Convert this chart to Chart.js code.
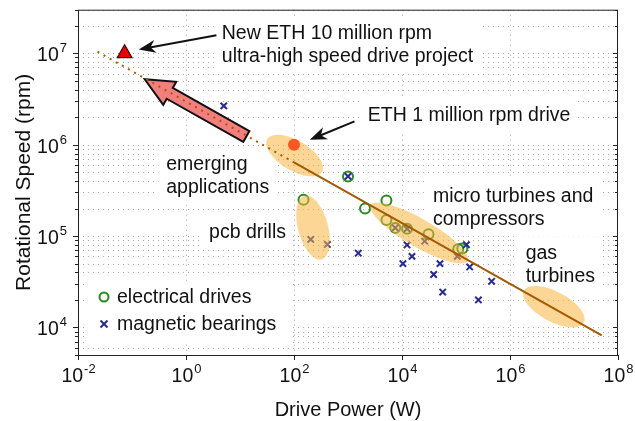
<!DOCTYPE html>
<html>
<head>
<meta charset="utf-8">
<script src="https://cdn.jsdelivr.net/npm/chart.js@4"></script>
<style>
  html, body { margin: 0; padding: 0; background: #fff; }
  canvas { display: block; }
</style>
</head>
<body>
<canvas id="grafik" width="635" height="421"></canvas>
<script>
// values (power in W, speed in rpm)
const elecPower = [1000, 150, 2070, 5150, 5150, 7500, 12400, 31000, 110000, 131000];
const elecSpeed = [4.5e5, 2.5e5, 2.0e5, 2.45e5, 1.5e5, 1.23e5, 1.2e5, 1.05e5, 7.2e4, 7.3e4];

const magPower = [5, 1000, 204, 415, 1550, 7500, 12400, 12400, 15300, 10400, 26300, 50500, 38600, 56700, 106000, 156000, 179000, 457000, 260000];
const magSpeed = [2.66e6, 4.5e5, 9.2e4, 8.1e4, 6.5e4, 1.23e5, 1.2e5, 8.0e4, 6.0e4, 5.0e4, 8.8e4, 5.0e4, 3.8e4, 2.44e4, 6.0e4, 8.06e4, 4.6e4, 3.2e4, 2.0e4];

// trend line: dotted part first, solid part after 100 W
const trendPower = [0.023, 100, 5e7];
const trendSpeed = [1.04e7, 6.4e5, 8.2e3];

const eth1Power = [100];
const eth1Speed = [1e6];
const eth10Power = [0.073];
const eth10Speed = [1e7];

const xTickExp = [-2, 0, 2, 4, 6, 8];
const yTickExp = [4, 5, 6, 7];

// shaded regions (centre in data units)
const blobs = [
    { x: 103, y: 7.6e5, rx: 32, ry: 15, rot: 31 },
    { x: 225, y: 1.24e5, rx: 33, ry: 15, rot: 75 },
    { x: 20800, y: 1.08e5, rx: 56, ry: 14, rot: 30 },
    { x: 6.5e6, y: 1.69e4, rx: 34, ry: 15, rot: 28 }
];

// text notes: left edge and first line centre, in data units
const notes = [
    { lines: ['New ETH 10 million rpm', 'ultra-high speed drive project'], x: 4.6, y: 1.66e7 },
    { lines: ['ETH 1 million rpm drive'], x: 2320, y: 2.09e6 },
    { lines: ['emerging', 'applications'], x: 0.43, y: 6.05e5 },
    { lines: ['pcb drills'], x: 2.67, y: 1.09e5 },
    { lines: ['micro turbines and', 'compressors'], x: 37500, y: 2.73e5 },
    { lines: ['gas', 'turbines'], x: 1.95e6, y: 6.5e4 }
];

// black pointer arrows and the big pink arrow
const pointers = [
    { from: { x: 3.66, y: 1.58e7 }, to: { x: 0.133, y: 1.1e7 } },
    { from: { x: 1320, y: 1.8e6 }, to: { x: 196, y: 1.13e6 } }
];
const bigArrow = { from: { x: 13.1, y: 1.23e6 }, to: { x: 0.172, y: 5.2e6 } };

const FONT = '"Liberation Sans", Arial, Helvetica, sans-serif';
const TXT = 19.5;
const GREEN = 'rgb(35,140,35)';
const BLUE = 'rgb(42,42,150)';
const BROWN = '#a35a00';

const pts = (xs, ys) => xs.map((x, i) => ({ x: x, y: ys[i] }));

function px(chart, p) {
    return [chart.scales.x.getPixelForValue(p.x), chart.scales.y.getPixelForValue(p.y)];
}

function line(ctx, x1, y1, x2, y2) {
    ctx.beginPath();
    ctx.moveTo(x1, y1);
    ctx.lineTo(x2, y2);
    ctx.stroke();
}

function powLabel(ctx, exp, x, y, align) {
    const sup = String(exp);
    ctx.font = TXT + 'px ' + FONT;
    const w1 = ctx.measureText('10').width;
    ctx.font = '13px ' + FONT;
    const w2 = ctx.measureText(sup).width + 1;
    const x0 = align === 'center' ? x - (w1 + w2) / 2 : x - w1 - w2;
    ctx.textAlign = 'left';
    ctx.textBaseline = 'alphabetic';
    ctx.font = TXT + 'px ' + FONT;
    ctx.fillText('10', x0, y);
    ctx.font = '13px ' + FONT;
    ctx.fillText(sup, x0 + w1 + 1, y - 9);
}

function noteLayout(chart, n) {
    const ctx = chart.ctx;
    const [x, y] = px(chart, n);
    ctx.font = TXT + 'px ' + FONT;
    const w = Math.max(...n.lines.map(s => ctx.measureText(s).width));
    return { x: x, y: y, w: w, h: 23 * n.lines.length };
}

const framePlugin = {
    id: 'frame',
    beforeDatasetsDraw(chart) {
        const { ctx, chartArea: a, scales: { x, y } } = chart;
        ctx.save();
        ctx.strokeStyle = '#a8a8a8';
        ctx.lineWidth = 1;
        ctx.setLineDash([1, 4]);
        for (let e = 3; e <= 7; e++) {
            for (let k = 1; k <= 9; k++) {
                const v = k * Math.pow(10, e);
                if (v < y.min || v > y.max) continue;
                const py = Math.round(y.getPixelForValue(v)) + 0.5;
                line(ctx, a.left, py, a.right, py);
            }
        }
        xTickExp.slice(1, -1).forEach(e => {
            const pxx = Math.round(x.getPixelForValue(Math.pow(10, e))) + 0.5;
            line(ctx, pxx, a.top, pxx, a.bottom);
        });
        ctx.setLineDash([]);
        // white backgrounds behind the notes and the legend
        ctx.fillStyle = '#fff';
        notes.forEach(n => {
            const b = noteLayout(chart, n);
            ctx.fillRect(b.x - 8, b.y - 17, b.w + 14, b.h + 11);
        });
        ctx.fillRect(a.left + 10, a.bottom - 74, 205, 62);
        ctx.restore();
    },
    beforeDatasetDraw(chart, args) {
        if (args.index !== 2) return;
        const ctx = chart.ctx;
        ctx.save();
        // shaded regions lie over the markers
        ctx.fillStyle = 'rgba(250,180,60,0.55)';
        blobs.forEach(b => {
            const [cx, cy] = px(chart, b);
            ctx.beginPath();
            ctx.ellipse(cx, cy, b.rx, b.ry, b.rot * Math.PI / 180, 0, Math.PI * 2);
            ctx.fill();
        });
        // big pink arrow
        const [tx, ty] = px(chart, bigArrow.from);
        const [hx, hy] = px(chart, bigArrow.to);
        const len = Math.hypot(hx - tx, hy - ty);
        const ux = (hx - tx) / len, uy = (hy - ty) / len;
        const nx = -uy, ny = ux;
        const sw = 6.2, hw = 13.2, hl = 28.7;
        const bx = hx - ux * hl, by = hy - uy * hl;
        ctx.beginPath();
        ctx.moveTo(tx + nx * sw, ty + ny * sw);
        ctx.lineTo(bx + nx * sw, by + ny * sw);
        ctx.lineTo(bx + nx * hw, by + ny * hw);
        ctx.lineTo(hx, hy);
        ctx.lineTo(bx - nx * hw, by - ny * hw);
        ctx.lineTo(bx - nx * sw, by - ny * sw);
        ctx.lineTo(tx - nx * sw, ty - ny * sw);
        ctx.closePath();
        ctx.fillStyle = '#f37e7e';
        ctx.fill();
        ctx.lineWidth = 2;
        ctx.lineJoin = 'miter';
        ctx.strokeStyle = '#111';
        ctx.stroke();
        ctx.restore();
    },
    afterDatasetsDraw(chart) {
        const { ctx, chartArea: a, scales: { x, y } } = chart;
        ctx.save();
        // box
        ctx.strokeStyle = '#222';
        ctx.lineWidth = 1;
        ctx.strokeRect(a.left + 0.5, a.top + 0.5, a.right - a.left - 1, a.bottom - a.top);
        // y ticks: out on the left, in on the right
        for (let e = 3; e <= 7; e++) {
            for (let k = 1; k <= 9; k++) {
                const v = k * Math.pow(10, e);
                if (v < y.min || v > y.max) continue;
                const py = Math.round(y.getPixelForValue(v)) + 0.5;
                const t = k === 1 ? 5 : 3;
                line(ctx, a.left - t, py, a.left, py);
                line(ctx, a.right - t, py, a.right, py);
            }
        }
        ctx.fillStyle = '#111';
        yTickExp.forEach(e => {
            const py = y.getPixelForValue(Math.pow(10, e));
            powLabel(ctx, e, a.left - 11, py + 8, 'right');
        });
        xTickExp.forEach(e => {
            const pxx = Math.round(x.getPixelForValue(Math.pow(10, e))) + 0.5;
            line(ctx, pxx, a.bottom, pxx, a.bottom + 5);
            powLabel(ctx, e, pxx, a.bottom + 27, 'center');
        });
        // axis titles
        ctx.textAlign = 'center';
        ctx.textBaseline = 'middle';
        ctx.font = '20px ' + FONT;
        ctx.fillText('Drive Power (W)', (a.left + a.right) / 2, 410);
        ctx.save();
        ctx.translate(24, (a.top + a.bottom) / 2);
        ctx.rotate(-Math.PI / 2);
        ctx.font = '21px ' + FONT;
        ctx.fillText('Rotational Speed (rpm)', 0, 0);
        ctx.restore();
        // notes
        ctx.font = TXT + 'px ' + FONT;
        ctx.textAlign = 'left';
        notes.forEach(n => {
            const b = noteLayout(chart, n);
            n.lines.forEach((s, i) => ctx.fillText(s, b.x, b.y + i * 23));
        });
        // black pointer arrows
        ctx.strokeStyle = '#111';
        ctx.fillStyle = '#111';
        ctx.lineWidth = 2;
        pointers.forEach(p => {
            const [x1, y1] = px(chart, p.from);
            const [x2, y2] = px(chart, p.to);
            const ang = Math.atan2(y2 - y1, x2 - x1);
            const c = Math.cos(ang), s = Math.sin(ang);
            line(ctx, x1, y1, x2 - c * 10, y2 - s * 10);
            ctx.beginPath();
            ctx.moveTo(x2, y2);
            ctx.lineTo(x2 - c * 17 + s * 6.5, y2 - s * 17 - c * 6.5);
            ctx.lineTo(x2 - c * 12, y2 - s * 12);
            ctx.lineTo(x2 - c * 17 - s * 6.5, y2 - s * 17 + c * 6.5);
            ctx.closePath();
            ctx.fill();
        });
        // legend
        const items = chart.data.datasets.slice(0, 2);
        items.forEach((d, i) => {
            const ly = a.bottom - 58 + i * 27;
            const lx = a.left + 26;
            ctx.strokeStyle = d.borderColor;
            ctx.lineWidth = 2;
            if (d.pointStyle === 'crossRot') {
                line(ctx, lx - 3.5, ly - 3.5, lx + 3.5, ly + 3.5);
                line(ctx, lx - 3.5, ly + 3.5, lx + 3.5, ly - 3.5);
            } else {
                ctx.beginPath();
                ctx.arc(lx, ly, 4.5, 0, Math.PI * 2);
                ctx.stroke();
            }
            ctx.fillStyle = '#111';
            ctx.textBaseline = 'middle';
            ctx.fillText(d.label, lx + 13, ly + 1);
        });
        ctx.restore();
    }
};

new Chart(document.getElementById('grafik'), {
    type: 'scatter',
    data: {
        datasets: [
            {
                label: 'electrical drives',
                data: pts(elecPower, elecSpeed),
                pointStyle: 'circle',
                pointRadius: 5,
                borderWidth: 2,
                borderColor: GREEN,
                backgroundColor: 'rgba(0,0,0,0)',
                order: 6
            },
            {
                label: 'magnetic bearings',
                data: pts(magPower, magSpeed),
                pointStyle: 'crossRot',
                pointRadius: 4.5,
                borderWidth: 2,
                borderColor: BLUE,
                backgroundColor: BLUE,
                order: 5
            },
            {
                label: 'trend',
                data: pts(trendPower.slice(1), trendSpeed.slice(1)),
                showLine: true,
                pointRadius: 0,
                borderWidth: 2,
                borderColor: BROWN,
                order: 4
            },
            {
                label: 'trend extrapolated',
                data: pts(trendPower.slice(0, 2), trendSpeed.slice(0, 2)),
                showLine: true,
                pointRadius: 0,
                borderWidth: 2,
                borderDash: [2, 5],
                borderColor: BROWN,
                order: 3
            },
            {
                label: 'ETH 1 million rpm drive',
                data: pts(eth1Power, eth1Speed),
                pointRadius: 6,
                borderWidth: 0,
                backgroundColor: '#ff5722',
                order: 2
            },
            {
                label: 'New ETH 10 million rpm',
                data: pts(eth10Power, eth10Speed),
                pointStyle: 'triangle',
                pointRadius: 8.5,
                borderWidth: 1.2,
                borderColor: '#3a0000',
                backgroundColor: '#ee0000',
                order: 1
            }
        ]
    },
    options: {
        responsive: false,
        animation: false,
        devicePixelRatio: 1,
        events: [],
        layout: { padding: { top: 9, right: 17, left: 0, bottom: 0 } },
        scales: {
            x: {
                type: 'logarithmic',
                min: 0.01,
                max: 1e8,
                ticks: { display: false },
                grid: { display: false },
                border: { display: false },
                afterFit: s => { s.height = 66; }
            },
            y: {
                type: 'logarithmic',
                min: 5000,
                max: 3e7,
                ticks: { display: false },
                grid: { display: false },
                border: { display: false },
                afterFit: s => { s.width = 78; }
            }
        },
        plugins: {
            legend: { display: false },
            tooltip: { enabled: false }
        }
    },
    plugins: [framePlugin]
});
</script>
</body>
</html>
